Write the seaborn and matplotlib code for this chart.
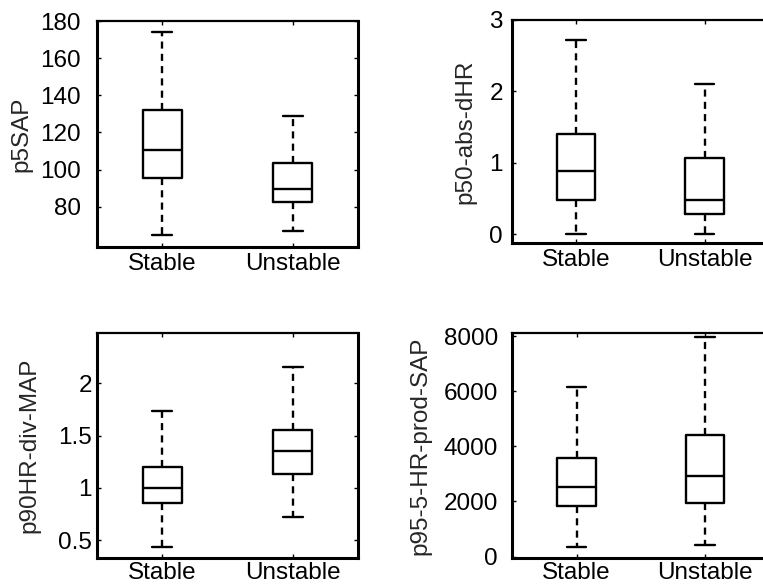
import numpy as np
import pandas as pd
import matplotlib
matplotlib.use("Agg")
import matplotlib.pyplot as plt
import seaborn as sns

groups = ["Stable", "Unstable"]
# five-number summaries: (min, q1, median, q3, max)
p5SAP_stable = [64.6, 95.6, 110.5, 132.0, 174.1]
p5SAP_unstable = [66.9, 82.4, 89.4, 103.3, 128.8]
p50_abs_dHR_stable = [0.0, 0.48, 0.88, 1.40, 2.72]
p50_abs_dHR_unstable = [0.0, 0.28, 0.48, 1.06, 2.10]
p90HR_div_MAP_stable = [0.43, 0.85, 1.00, 1.20, 1.735]
p90HR_div_MAP_unstable = [0.72, 1.13, 1.35, 1.55, 2.16]
p95_5_HR_prod_SAP_stable = [364, 1854, 2523, 3578, 6160]
p95_5_HR_prod_SAP_unstable = [425, 1963, 2909, 4425, 7980]

ylabels = ["p5SAP", "p50-abs-dHR", "p90HR-div-MAP", "p95-5-HR-prod-SAP"]
yticks = [[80, 100, 120, 140, 160, 180], [0, 1, 2, 3], [0.5, 1, 1.5, 2],
          [0, 2000, 4000, 6000, 8000]]
yticklabels = [["80", "100", "120", "140", "160", "180"], ["0", "1", "2", "3"],
               ["0.5", "1", "1.5", "2"], ["0", "2000", "4000", "6000", "8000"]]
ylims = [(58.3, 180), (-0.13, 3.0), (0.325, 2.48), (-60, 8100)]

series = [
    (p5SAP_stable, p5SAP_unstable),
    (p50_abs_dHR_stable, p50_abs_dHR_unstable),
    (p90HR_div_MAP_stable, p90HR_div_MAP_unstable),
    (p95_5_HR_prod_SAP_stable, p95_5_HR_prod_SAP_unstable),
]

sns.set_style("white")
plt.rcParams["font.family"] = ["Liberation Sans", "DejaVu Sans"]
plt.rcParams["font.size"] = 17.5

W, H = 763, 587
fig = plt.figure(figsize=(W / 100, H / 100), dpi=100)

# axes boxes in pixels: left, top, width, height
boxes = [(97, 21, 261, 226), (511.75, 20, 257, 223.3),
         (97, 333.3, 261, 225), (512.3, 333.3, 257, 225)]
ytick_pads = [11.5, 6.3, 3.6, 10.3]
label_x = [32, 476.7, 40.7, 431.7]
xtick_pads = [4.5, 4.0, 2.5, 2.5]

for i in range(4):
    l, t, w, h = boxes[i]
    ax = fig.add_axes([l / W, 1 - (t + h) / H, w / W, h / H])
    s, u = series[i]
    df = pd.DataFrame({
        "group": [groups[0]] * len(s) + [groups[1]] * len(u),
        "value": list(s) + list(u),
    })
    sns.boxplot(data=df, x="group", y="value", ax=ax, order=groups,
                color="black", fill=False, width=0.3, whis=(0, 100),
                showfliers=False, linewidth=1.7,
                whiskerprops=dict(linestyle=(0, (3.0, 2.2)), color="black"),
                capprops=dict(color="black"),
                medianprops=dict(color="black"),
                boxprops=dict(color="black"))
    ax.set_xlim(-0.5, 1.5)
    ax.set_ylim(*ylims[i])
    ax.set_yticks(yticks[i])
    ax.set_yticklabels(yticklabels[i])
    ax.set_xlabel("")
    ax.set_ylabel(ylabels[i], fontsize=17.5)
    ax.yaxis.set_label_coords((label_x[i] - l) / w, 0.5)
    for side in ["left", "bottom", "right"]:
        ax.spines[side].set_linewidth(2.2)
        ax.spines[side].set_color("black")
        ax.spines[side].set_visible(True)
    ax.spines["top"].set_linewidth(1.6)
    ax.spines["top"].set_color("black")
    ax.spines["top"].set_visible(True)
    ax.tick_params(axis="both", direction="in", length=3, width=1,
                   top=True, right=True, left=True, bottom=True,
                   labelsize=17.5, colors="black")
    ax.tick_params(axis="y", pad=ytick_pads[i])
    ax.tick_params(axis="x", pad=xtick_pads[i])

fig.savefig("out.png", dpi=100)
